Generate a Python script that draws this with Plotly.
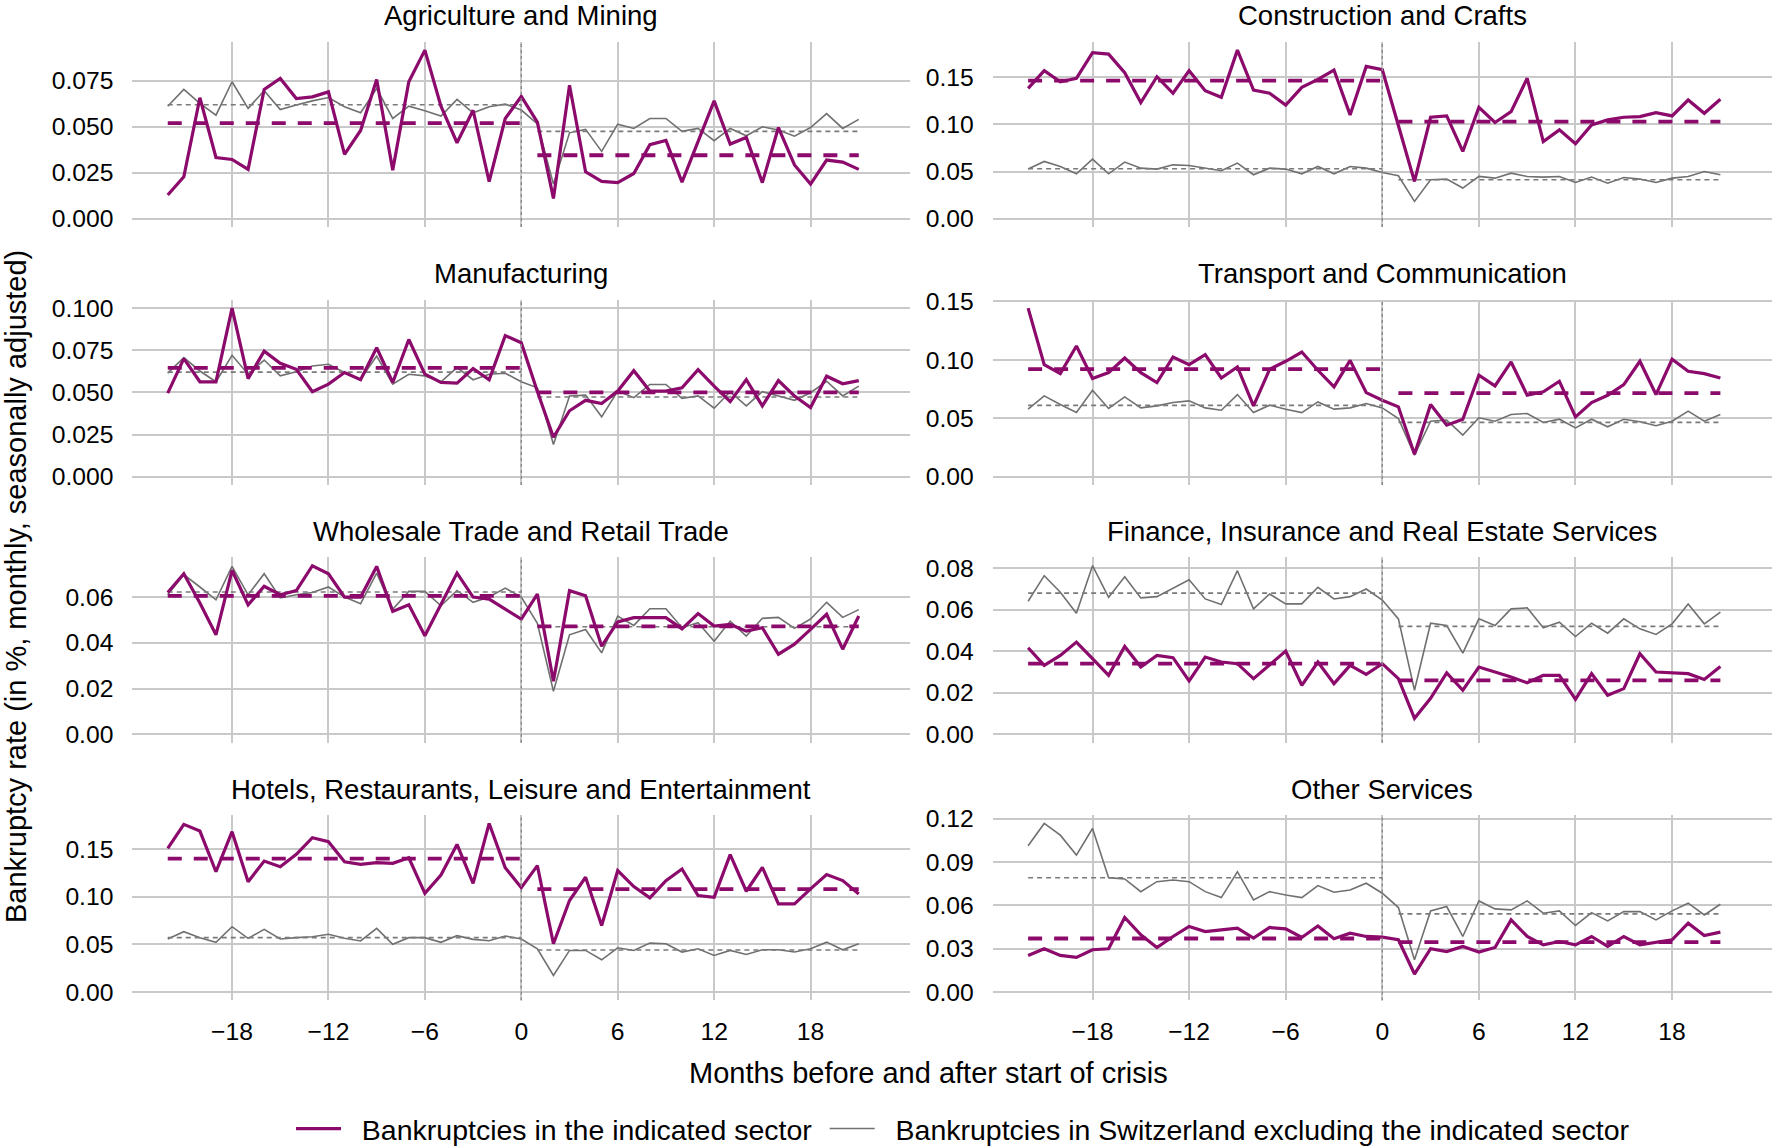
import plotly.graph_objects as go

# ---------------- data ----------------
months = list(range(-22, 22))  # months before/after start of crisis
crisis_month = 0

x_tick_vals = [-18, -12, -6, 0, 6, 12, 18]
x_tick_labels = ["\u221218", "\u221212", "\u22126", "0", "6", "12", "18"]

titles = [
    "Agriculture and Mining", "Construction and Crafts",
    "Manufacturing", "Transport and Communication",
    "Wholesale Trade and Retail Trade", "Finance, Insurance and Real Estate Services",
    "Hotels, Restaurants, Leisure and Entertainment", "Other Services",
]

agri_sector = [0.0129, 0.0228, 0.0658, 0.0333, 0.0322, 0.0268, 0.0703, 0.0763, 0.0654, 0.0663, 0.0690, 0.0350,
               0.0480, 0.0757, 0.0264, 0.0745, 0.0917, 0.0612, 0.0413, 0.0590, 0.0201, 0.0545, 0.0665,
               0.0525, 0.0110, 0.0726, 0.0255, 0.0203, 0.0196, 0.0246, 0.0403, 0.0426, 0.0199, 0.0420,
               0.0641, 0.0406, 0.0442, 0.0196, 0.0496, 0.0292, 0.0188, 0.0319, 0.0308, 0.0268]
agri_rest = [0.0612, 0.0703, 0.0627, 0.0563, 0.0745, 0.0600, 0.0696, 0.0594, 0.0618, 0.0641, 0.0659, 0.0609,
             0.0576, 0.0708, 0.0545, 0.0612, 0.0587, 0.0558, 0.0649, 0.0576, 0.0609, 0.0623, 0.0591,
             0.0515, 0.0188, 0.0467, 0.0486, 0.0366, 0.0514, 0.0491, 0.0545, 0.0545, 0.0475, 0.0491,
             0.0424, 0.0491, 0.0451, 0.0500, 0.0482, 0.0449, 0.0496, 0.0572, 0.0491, 0.0540]

constr_sector = [0.1383, 0.1570, 0.1453, 0.1489, 0.1760, 0.1746, 0.1549, 0.1231, 0.1506, 0.1330, 0.1570, 0.1358,
                 0.1287, 0.1788, 0.1365, 0.1330, 0.1206, 0.1393, 0.1478, 0.1577, 0.1101, 0.1615, 0.1580,
                 0.1000, 0.0395, 0.1076, 0.1090, 0.0713, 0.1182, 0.1020, 0.1136, 0.1489, 0.0818, 0.0942,
                 0.0794, 0.0995, 0.1048, 0.1076, 0.1083, 0.1125, 0.1090, 0.1259, 0.1118, 0.1266]
constr_rest = [0.0526, 0.0607, 0.0554, 0.0476, 0.0631, 0.0476, 0.0600, 0.0536, 0.0526, 0.0571, 0.0564, 0.0536,
               0.0508, 0.0589, 0.0466, 0.0536, 0.0526, 0.0476, 0.0554, 0.0476, 0.0554, 0.0536, 0.0490,
               0.0455, 0.0183, 0.0413, 0.0420, 0.0325, 0.0448, 0.0430, 0.0483, 0.0448, 0.0441, 0.0448,
               0.0384, 0.0441, 0.0377, 0.0437, 0.0420, 0.0384, 0.0430, 0.0448, 0.0501, 0.0466]

manuf_sector = [0.0496, 0.0700, 0.0563, 0.0563, 0.1000, 0.0582, 0.0745, 0.0673, 0.0637, 0.0504, 0.0549, 0.0618,
                0.0575, 0.0765, 0.0559, 0.0814, 0.0608, 0.0559, 0.0555, 0.0641, 0.0575, 0.0837, 0.0795,
                0.0505, 0.0234, 0.0391, 0.0453, 0.0434, 0.0508, 0.0629, 0.0508, 0.0508, 0.0527, 0.0635,
                0.0537, 0.0445, 0.0576, 0.0420, 0.0570, 0.0479, 0.0410, 0.0596, 0.0551, 0.0570]
manuf_rest = [0.0614, 0.0706, 0.0627, 0.0563, 0.0720, 0.0608, 0.0692, 0.0598, 0.0622, 0.0657, 0.0667, 0.0618,
              0.0578, 0.0716, 0.0549, 0.0608, 0.0598, 0.0563, 0.0647, 0.0575, 0.0608, 0.0614, 0.0563,
              0.0527, 0.0191, 0.0479, 0.0484, 0.0355, 0.0508, 0.0469, 0.0547, 0.0547, 0.0465, 0.0479,
              0.0406, 0.0504, 0.0420, 0.0504, 0.0479, 0.0453, 0.0498, 0.0566, 0.0479, 0.0537]

transp_sector = [0.1443, 0.0959, 0.0882, 0.1119, 0.0840, 0.0891, 0.1016, 0.0891, 0.0806, 0.1025, 0.0959, 0.1045,
                 0.0845, 0.0939, 0.0606, 0.0919, 0.0988, 0.1067, 0.0911, 0.0769, 0.0996, 0.0720, 0.0655,
                 0.0598, 0.0191, 0.0618, 0.0441, 0.0492, 0.0868, 0.0777, 0.0982, 0.0697, 0.0726, 0.0817,
                 0.0512, 0.0635, 0.0697, 0.0788, 0.0988, 0.0703, 0.1005, 0.0902, 0.0882, 0.0845]
transp_rest = [0.0578, 0.0692, 0.0618, 0.0549, 0.0740, 0.0584, 0.0683, 0.0589, 0.0606, 0.0635, 0.0649, 0.0589,
               0.0569, 0.0703, 0.0549, 0.0612, 0.0578, 0.0549, 0.0640, 0.0578, 0.0589, 0.0626, 0.0589,
               0.0498, 0.0185, 0.0475, 0.0484, 0.0356, 0.0504, 0.0475, 0.0532, 0.0541, 0.0464, 0.0492,
               0.0418, 0.0492, 0.0427, 0.0492, 0.0470, 0.0436, 0.0475, 0.0561, 0.0475, 0.0532]

trade_sector = [0.0620, 0.0702, 0.0574, 0.0435, 0.0717, 0.0566, 0.0647, 0.0610, 0.0628, 0.0737, 0.0702, 0.0600,
                0.0600, 0.0734, 0.0537, 0.0566, 0.0431, 0.0566, 0.0705, 0.0600, 0.0591, 0.0547, 0.0504,
                0.0613, 0.0232, 0.0628, 0.0606, 0.0385, 0.0491, 0.0510, 0.0510, 0.0510, 0.0461, 0.0528,
                0.0473, 0.0480, 0.0451, 0.0466, 0.0350, 0.0394, 0.0459, 0.0525, 0.0372, 0.0517]
trade_rest = [0.0610, 0.0698, 0.0644, 0.0588, 0.0734, 0.0610, 0.0702, 0.0596, 0.0610, 0.0620, 0.0644, 0.0600,
              0.0571, 0.0705, 0.0547, 0.0625, 0.0625, 0.0562, 0.0629, 0.0577, 0.0600, 0.0639, 0.0600,
              0.0485, 0.0188, 0.0435, 0.0458, 0.0356, 0.0517, 0.0476, 0.0549, 0.0549, 0.0466, 0.0488,
              0.0407, 0.0495, 0.0429, 0.0507, 0.0511, 0.0463, 0.0504, 0.0577, 0.0511, 0.0545]

fin_sector = [0.0417, 0.0332, 0.0380, 0.0444, 0.0364, 0.0284, 0.0423, 0.0324, 0.0380, 0.0369, 0.0257, 0.0372,
              0.0348, 0.0340, 0.0268, 0.0337, 0.0401, 0.0236, 0.0348, 0.0244, 0.0332, 0.0289, 0.0340,
              0.0268, 0.0077, 0.0173, 0.0296, 0.0212, 0.0324, 0.0300, 0.0276, 0.0248, 0.0284, 0.0284,
              0.0168, 0.0292, 0.0188, 0.0220, 0.0388, 0.0300, 0.0296, 0.0292, 0.0264, 0.0327]
fin_rest = [0.0641, 0.0764, 0.0684, 0.0583, 0.0812, 0.0660, 0.0759, 0.0657, 0.0663, 0.0704, 0.0744, 0.0652,
            0.0625, 0.0788, 0.0604, 0.0676, 0.0628, 0.0628, 0.0708, 0.0652, 0.0663, 0.0700, 0.0647,
            0.0556, 0.0212, 0.0535, 0.0524, 0.0391, 0.0556, 0.0524, 0.0604, 0.0609, 0.0513, 0.0540,
            0.0471, 0.0535, 0.0487, 0.0556, 0.0508, 0.0481, 0.0532, 0.0628, 0.0532, 0.0588]

hotel_sector = [0.1507, 0.1759, 0.1689, 0.1262, 0.1682, 0.1157, 0.1374, 0.1315, 0.1444, 0.1619, 0.1577, 0.1367,
                0.1339, 0.1357, 0.1350, 0.1409, 0.1035, 0.1227, 0.1549, 0.1140, 0.1769, 0.1304, 0.1094,
                0.1326, 0.0506, 0.0960, 0.1204, 0.0698, 0.1274, 0.1106, 0.0987, 0.1169, 0.1291, 0.1012,
                0.0994, 0.1441, 0.1057, 0.1308, 0.0925, 0.0925, 0.1082, 0.1232, 0.1169, 0.1029]
hotel_rest = [0.0556, 0.0633, 0.0570, 0.0521, 0.0685, 0.0563, 0.0657, 0.0556, 0.0570, 0.0580, 0.0605, 0.0563,
              0.0535, 0.0668, 0.0500, 0.0570, 0.0570, 0.0521, 0.0591, 0.0552, 0.0538, 0.0587, 0.0556,
              0.0454, 0.0174, 0.0436, 0.0436, 0.0338, 0.0464, 0.0436, 0.0513, 0.0506, 0.0419, 0.0454,
              0.0384, 0.0436, 0.0394, 0.0443, 0.0443, 0.0419, 0.0454, 0.0523, 0.0443, 0.0506]

other_sector = [0.0253, 0.0299, 0.0253, 0.0239, 0.0292, 0.0299, 0.0515, 0.0395, 0.0308, 0.0384, 0.0453, 0.0418,
                0.0430, 0.0441, 0.0372, 0.0446, 0.0437, 0.0377, 0.0457, 0.0368, 0.0407, 0.0384, 0.0379,
                0.0361, 0.0124, 0.0299, 0.0280, 0.0315, 0.0276, 0.0308, 0.0499, 0.0384, 0.0326, 0.0349,
                0.0326, 0.0384, 0.0315, 0.0384, 0.0326, 0.0343, 0.0361, 0.0476, 0.0391, 0.0414]
other_rest = [0.1011, 0.1166, 0.1085, 0.0947, 0.1131, 0.0791, 0.0782, 0.0694, 0.0763, 0.0775, 0.0763, 0.0694,
              0.0653, 0.0832, 0.0637, 0.0694, 0.0671, 0.0653, 0.0736, 0.0690, 0.0706, 0.0752, 0.0683,
              0.0584, 0.0223, 0.0561, 0.0591, 0.0384, 0.0630, 0.0575, 0.0568, 0.0630, 0.0545, 0.0561,
              0.0460, 0.0549, 0.0492, 0.0556, 0.0556, 0.0499, 0.0561, 0.0614, 0.0533, 0.0607]

# average levels before (-22..0) and after (1..21) the start of the crisis: [sector pre, sector post, rest pre, rest post]
agri_means = [0.0520, 0.0345, 0.0620, 0.0475]
constr_means = [0.1465, 0.1030, 0.0530, 0.0413]
manuf_means = [0.0645, 0.0500, 0.0620, 0.0473]
transp_means = [0.0920, 0.0715, 0.0610, 0.0465]
trade_means = [0.0605, 0.0472, 0.0622, 0.0470]
fin_means = [0.0340, 0.0260, 0.0680, 0.0520]
hotel_means = [0.1400, 0.1080, 0.0570, 0.0440]
other_means = [0.0370, 0.0345, 0.0790, 0.0540]

agri_yticks = [0.0, 0.025, 0.05, 0.075]
constr_yticks = [0.0, 0.05, 0.10, 0.15]
manuf_yticks = [0.0, 0.025, 0.05, 0.075, 0.10]
transp_yticks = [0.0, 0.05, 0.10, 0.15]
trade_yticks = [0.0, 0.02, 0.04, 0.06]
fin_yticks = [0.0, 0.02, 0.04, 0.06, 0.08]
hotel_yticks = [0.0, 0.05, 0.10, 0.15]
other_yticks = [0.0, 0.03, 0.06, 0.09, 0.12]
ytick_formats = [".3f", ".2f", ".3f", ".2f", ".2f", ".2f", ".2f", ".2f"]

legend_sector = "Bankruptcies in the indicated sector"
legend_rest = "Bankruptcies in Switzerland excluding the indicated sector"
x_title = "Months before and after start of crisis"
y_title = "Bankruptcy rate (in %, monthly, seasonally adjusted)"

# ---------------- styling ----------------
W, H = 1776, 1148
FONT = "Liberation Sans, Arial, Helvetica, sans-serif"
PURPLE = "#8B0A6B"
GREY = "#707070"
GREY_DASH = "#7A7A7A"
GRID = "#C9C9C9"
NBSP = "\u00a0"

col_px = [(132.4, 910.2), (992.7, 1771.9)]
row_tops = [41.7, 299.7, 557.3, 815.0]
panel_h = 185.4

sectors = [agri_sector, constr_sector, manuf_sector, transp_sector, trade_sector, fin_sector, hotel_sector, other_sector]
rests = [agri_rest, constr_rest, manuf_rest, transp_rest, trade_rest, fin_rest, hotel_rest, other_rest]
means = [agri_means, constr_means, manuf_means, transp_means, trade_means, fin_means, hotel_means, other_means]
yticks = [agri_yticks, constr_yticks, manuf_yticks, transp_yticks, trade_yticks, fin_yticks, hotel_yticks, other_yticks]

pre_x = [m for m in months if m <= crisis_month]
post_x = [m for m in months if m > crisis_month]
xr = max(abs(months[0]), abs(months[-1]) + 1) * 1.1

fig = go.Figure()
layout = dict(
    width=W, height=H, autosize=False,
    margin=dict(l=0, r=0, t=0, b=0, autoexpand=False),
    paper_bgcolor="white", plot_bgcolor="white",
    font=dict(family=FONT, color="black", size=25),
    showlegend=True,
    legend=dict(orientation="h", xref="container", yref="container",
                x=963 / W, xanchor="center", y=1 - 1129 / H, yanchor="middle",
                font=dict(size=28.5, family=FONT), bgcolor="rgba(0,0,0,0)", itemwidth=45,
                traceorder="normal"),
)
annotations = []
shapes = []

for i in range(8):
    r, c = divmod(i, 2)
    k = i + 1
    xa = "x" if k == 1 else f"x{k}"
    ya = "y" if k == 1 else f"y{k}"
    xd = [col_px[c][0] / W, col_px[c][1] / W]
    top = row_tops[r]
    yd = [1 - (top + panel_h) / H, 1 - top / H]
    ymax = max(max(sectors[i]), max(rests[i]))
    yrange = [-0.05 * ymax, 1.05 * ymax]

    layout[f"xaxis{k}"] = dict(
        domain=xd, anchor=ya, range=[-xr, xr], tickvals=x_tick_vals, ticktext=x_tick_labels,
        showticklabels=(r == 3), ticks="outside" if r == 3 else "", ticklen=9,
        tickcolor="rgba(0,0,0,0)", showgrid=True, gridcolor=GRID, gridwidth=1.6,
        zeroline=False, showline=False, tickfont=dict(size=24.7), automargin=False,
    )
    layout[f"yaxis{k}"] = dict(
        domain=yd, anchor=xa, range=yrange, tickvals=yticks[i], tickformat=ytick_formats[i],
        ticks="outside", ticklen=13, tickcolor="rgba(0,0,0,0)", showgrid=True, gridcolor=GRID,
        gridwidth=1.6, zeroline=False, showline=False, tickfont=dict(size=24.7), automargin=False,
    )

    # rest-of-Switzerland series
    fig.add_trace(go.Scatter(x=months, y=rests[i], mode="lines", xaxis=xa, yaxis=ya,
                             line=dict(color=GREY, width=1.6), name=NBSP * 2 + legend_rest,
                             showlegend=(i == 0), legendrank=2))
    m = means[i]
    fig.add_trace(go.Scatter(x=[pre_x[0], pre_x[-1]], y=[m[2], m[2]], mode="lines", xaxis=xa, yaxis=ya,
                             line=dict(color=GREY_DASH, width=1.6, dash="5px,4px"), showlegend=False))
    fig.add_trace(go.Scatter(x=[post_x[0], post_x[-1]], y=[m[3], m[3]], mode="lines", xaxis=xa, yaxis=ya,
                             line=dict(color=GREY_DASH, width=1.6, dash="5px,4px"), showlegend=False))
    fig.add_trace(go.Scatter(x=[pre_x[0], pre_x[-1]], y=[m[0], m[0]], mode="lines", xaxis=xa, yaxis=ya,
                             line=dict(color=PURPLE, width=3.8, dash="14px,12px"), showlegend=False))
    fig.add_trace(go.Scatter(x=[post_x[0], post_x[-1]], y=[m[1], m[1]], mode="lines", xaxis=xa, yaxis=ya,
                             line=dict(color=PURPLE, width=3.8, dash="14px,12px"), showlegend=False))
    # sector series
    fig.add_trace(go.Scatter(x=months, y=sectors[i], mode="lines", xaxis=xa, yaxis=ya,
                             line=dict(color=PURPLE, width=3.2), name=NBSP * 2 + legend_sector + NBSP,
                             showlegend=(i == 0), legendrank=1))

    shapes.append(dict(type="line", xref=xa, yref=f"{ya} domain", x0=crisis_month, x1=crisis_month,
                       y0=0, y1=1, line=dict(color="#8A8A8A", width=1.4, dash="dot"), layer="above"))

    annotations.append(dict(text=titles[i], xref="paper", yref="paper", x=(xd[0] + xd[1]) / 2,
                            y=1 - (top - 26) / H, xanchor="center", yanchor="middle", showarrow=False,
                            font=dict(size=27.5, family=FONT, color="black")))

annotations.append(dict(text=x_title, xref="paper", yref="paper", x=928 / W, y=1 - 1073 / H,
                        xanchor="center", yanchor="middle", showarrow=False,
                        font=dict(size=29, family=FONT, color="black")))
annotations.append(dict(text=y_title, xref="paper", yref="paper", x=16 / W, y=1 - 587 / H,
                        xanchor="center", yanchor="middle", showarrow=False, textangle=-90,
                        font=dict(size=29, family=FONT, color="black")))

layout["annotations"] = annotations
layout["shapes"] = shapes
fig.update_layout(**layout)
fig.write_html("out.html", config={"displayModeBar": False},
               post_script="document.body.style.margin='0';document.body.style.overflow='hidden';")
